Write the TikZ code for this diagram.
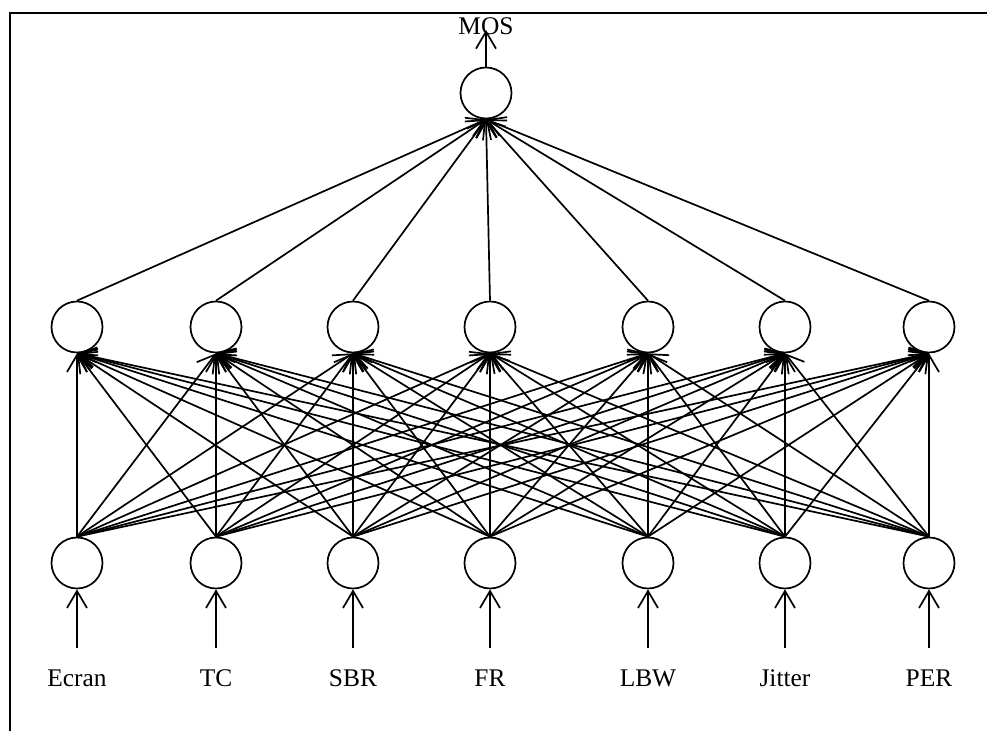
\documentclass[tikz,border=0pt]{standalone}
\usepackage{fontspec}
\setmainfont{Liberation Serif}
\usetikzlibrary{arrows.meta}

\begin{document}
\begin{tikzpicture}[x=0.5pt,y=-0.5pt,
  neuron/.style={draw,circle,line width=0.85pt,minimum size=25.5pt,inner sep=0pt},
  link/.style={line width=0.85pt,-{Straight Barb[length=8.5pt,width=10pt]}},
  lbl/.style={font=\fontsize{12.7}{15}\selectfont,inner sep=0pt,anchor=base}]
\useasboundingbox (0,0) rectangle (987,731);
\draw[line width=1.2pt] (10,731) -- (10,13) -- (987,13);
% input and hidden layers
\foreach \i/\x/\t in {1/77/Ecran,2/216/TC,3/353/SBR,4/490/FR,5/648/LBW,6/785/Jitter,7/929/PER} {
  \node[neuron] (in\i) at (\x,563) {};
  \node[neuron] (hid\i) at (\x,327) {};
  \node[lbl] (lab\i) at (\x,687) {\t};
  \coordinate (src\i) at (\x,648);
  \draw[link] (src\i) -- (in\i.south);
}
% output layer
\node[neuron] (out) at (486,93) {};
\node[lbl] (mos) at (486,35) {MOS};
\coordinate (dst) at (486,30);
\draw[link] (out.north) -- (dst);
% weights
\foreach \i in {1,...,7} {
  \foreach \j in {1,...,7}
    \draw[link] (in\i.north) -- (hid\j.south);
  \draw[link] (hid\i.north) -- (out.south);
}
\end{tikzpicture}
\end{document}
